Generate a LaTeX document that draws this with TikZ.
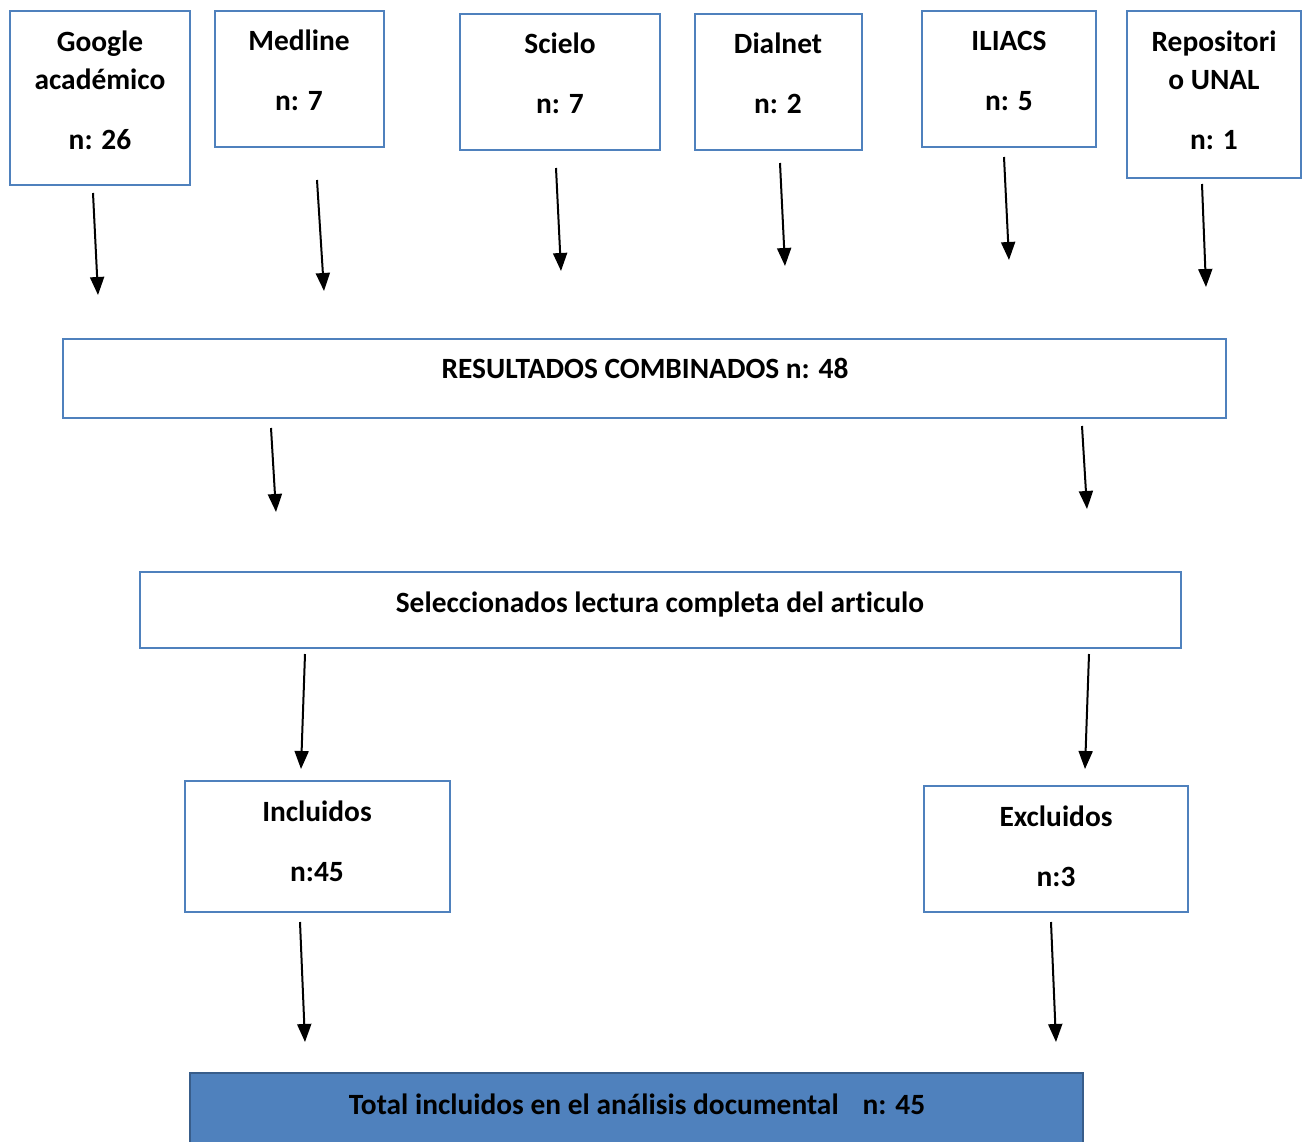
\documentclass[tikz,border=0pt]{standalone}
\usepackage{fontspec}
\setmainfont[Ligatures=NoCommon]{Carlito}
\usetikzlibrary{arrows.meta}
\definecolor{boxblue}{HTML}{4F81BD}
\definecolor{fillblue}{HTML}{4F81BD}
\definecolor{darkblue}{HTML}{385D8A}
\begin{document}
\begin{tikzpicture}[x=1pt,y=-1pt,
  box/.style={draw=boxblue, line width=2pt, inner sep=0pt, fill=white},
  lbl/.style={font=\bfseries\fontsize{29.4}{35}\selectfont, anchor=base, inner sep=0pt},
  arr/.style={-{Triangle[length=18pt,width=14pt]}, line width=2pt, black}]
\useasboundingbox (0,0) rectangle (1307,1141);
% boxes
\node[box, minimum width=180pt, minimum height=174pt] (gbox) at (100,98) {};
\node[box, minimum width=169pt, minimum height=136pt] (mbox) at (299.5,79) {};
\node[box, minimum width=200pt, minimum height=136pt] (sbox) at (560,82) {};
\node[box, minimum width=167pt, minimum height=136pt] (dbox) at (778.5,82) {};
\node[box, minimum width=174pt, minimum height=136pt] (ibox) at (1009,79) {};
\node[box, minimum width=174pt, minimum height=167pt] (rbox) at (1214,94.5) {};
\node[box, minimum width=1163pt, minimum height=79pt] (resbox) at (644.5,378.5) {};
\node[box, minimum width=1041pt, minimum height=76pt] (selbox) at (660.5,610) {};
\node[box, minimum width=265pt, minimum height=131pt] (incbox) at (317.5,846.5) {};
\node[box, minimum width=264pt, minimum height=126pt] (excbox) at (1056,849) {};
\node[draw=darkblue, fill=fillblue, line width=2pt, inner sep=0pt, minimum width=893pt, minimum height=72pt] (totbox) at (636.5,1109) {};
% labels
\node[lbl] (g1) at (100,51) {Google};
\node[lbl] (g2) at (100,89) {académico};
\node[lbl] (g3) at (100,149) {n: 26};
\node[lbl] (m1) at (299,50) {Medline};
\node[lbl] (m2) at (299,110) {n: 7};
\node[lbl] (s1) at (560,53) {Scielo};
\node[lbl] (s2) at (560,113) {n: 7};
\node[lbl] (d1) at (778,53) {Dialnet};
\node[lbl] (d2) at (778,113) {n: 2};
\node[lbl] (i1) at (1009,50) {ILIACS};
\node[lbl] (i2) at (1009,110) {n: 5};
\node[lbl] (r1) at (1214,51) {Repositori};
\node[lbl] (r2) at (1214,89) {o UNAL};
\node[lbl] (r3) at (1214,149) {n: 1};
\node[lbl] (res) at (645,378) {RESULTADOS COMBINADOS n: 48};
\node[lbl] (sel) at (660,612) {Seleccionados lectura completa del articulo};
\node[lbl] (inc1) at (317,821) {Incluidos};
\node[lbl] (inc2) at (317,881) {n:45};
\node[lbl] (exc1) at (1056,826) {Excluidos};
\node[lbl] (exc2) at (1056,886) {n:3};
\node[lbl] (tot) at (637,1114) {Total incluidos en el análisis documental\hspace{24pt}n: 45};
% arrow coordinates
\coordinate (a1s) at (93,193);   \coordinate (a1e) at (98,295);
\coordinate (a2s) at (317,180);  \coordinate (a2e) at (324,291);
\coordinate (a3s) at (556,168);  \coordinate (a3e) at (561,271);
\coordinate (a4s) at (780,163);  \coordinate (a4e) at (785,266);
\coordinate (a5s) at (1004,157); \coordinate (a5e) at (1009,260);
\coordinate (a6s) at (1202,184); \coordinate (a6e) at (1206,287);
\coordinate (b1s) at (271,428);  \coordinate (b1e) at (276,512);
\coordinate (b2s) at (1082,426); \coordinate (b2e) at (1087,509);
\coordinate (c1s) at (305,654);  \coordinate (c1e) at (301,769);
\coordinate (c2s) at (1089,654); \coordinate (c2e) at (1085,769);
\coordinate (e1s) at (300,922);  \coordinate (e1e) at (305,1042);
\coordinate (e2s) at (1051,922); \coordinate (e2e) at (1056,1042);
\foreach \p in {a1,a2,a3,a4,a5,a6,b1,b2,c1,c2,e1,e2}
  \draw[arr] (\p s) -- (\p e);
\end{tikzpicture}
\end{document}
